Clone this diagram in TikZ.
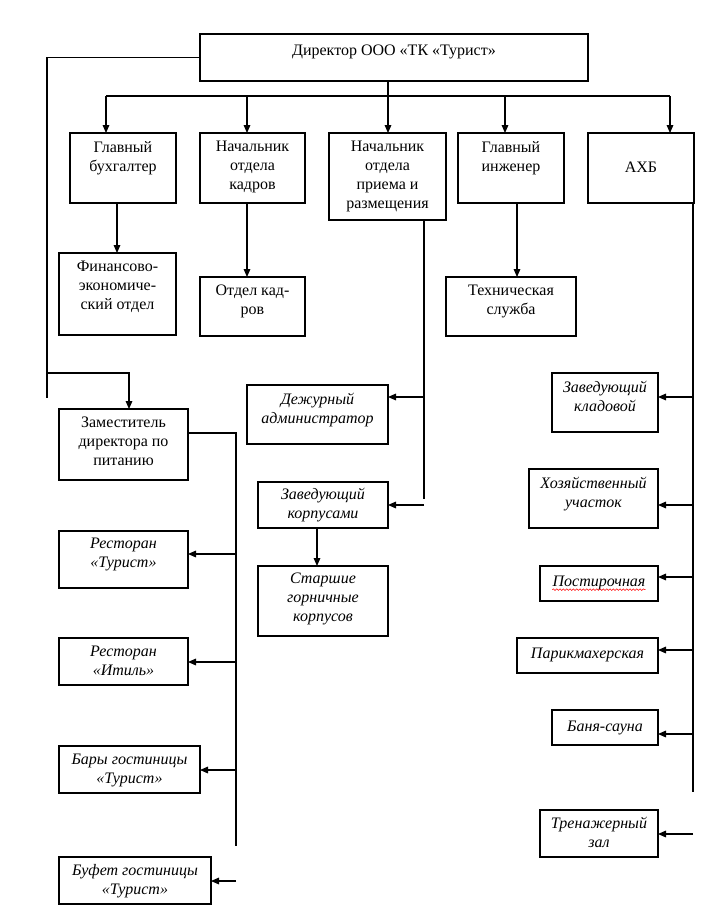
\documentclass[tikz,border=0pt]{standalone}
\usepackage{fontspec}
\setmainfont{Liberation Serif}
\usetikzlibrary{arrows.meta,decorations.pathmorphing}
\tikzset{
 boxst/.style={draw, line width=0.8pt, inner sep=0pt, outer sep=0pt},
 txt/.style={font=\fontsize{12}{14.25}\selectfont, align=center, inner sep=0pt,
   execute at begin node=\strut, execute at end node=\strut},
 itx/.style={txt, font=\fontsize{12}{14.25}\selectfont\itshape},
 ln/.style={line width=0.8pt},
 arr/.style={ln, -{Triangle[length=6pt,width=5pt]}},
}
\newcommand\bx[8]{%
 \node[boxst, minimum width={(#4-#2)*0.75pt}, minimum height={(#5-#3)*0.75pt}, anchor=north west] (#1) at (#2,#3) {};
 \node[#7] (#1-t) at ({(#2+#4)/2},{#6+1.5}) {#8};}
\begin{document}
\begin{tikzpicture}[x=0.75pt,y=-0.75pt]
\useasboundingbox (0,0) rectangle (711,924);
% boxes
\bx{dir}{200}{34}{588}{81}{50}{txt}{Директор ООО «ТК «Турист»}
\bx{b1}{70}{133}{176}{203}{157.5}{txt}{Главный\\бухгалтер}
\bx{b2}{200}{133}{305}{203}{167}{txt}{Начальник\\отдела\\кадров}
\bx{b3}{329}{133}{446}{220}{176.5}{txt}{Начальник\\отдела\\приема и\\размещения}
\bx{b4}{458}{133}{564}{203}{157.5}{txt}{Главный\\инженер}
\bx{b5}{588}{133}{694}{203}{167}{txt}{АХБ}
\bx{fin}{59}{253}{176}{335}{286.5}{txt}{Финансово-\\экономиче-\\ский отдел}
\bx{ok}{200}{277}{305}{336}{301.5}{txt}{Отдел кад-\\ров}
\bx{tech}{446}{277}{576}{336}{301.5}{txt}{Техническая\\служба}
\bx{zam}{59}{409}{188}{480}{442.5}{txt}{Заместитель\\директора по\\питанию}
\bx{dezh}{247}{385}{388}{444}{409.5}{itx}{Дежурный\\администратор}
\bx{korp}{258}{482}{388}{528}{504.5}{itx}{Заведующий\\корпусами}
\bx{star}{258}{566}{388}{636}{599}{itx}{Старшие\\горничные\\корпусов}
\bx{rt}{59}{531}{188}{588}{554.5}{itx}{Ресторан\\«Турист»}
\bx{ri}{59}{638}{188}{685}{662}{itx}{Ресторан\\«Итиль»}
\bx{bar}{59}{746}{200}{793}{770}{itx}{Бары гостиницы\\«Турист»}
\bx{buf}{59}{857}{211}{904}{881}{itx}{Буфет гостиницы\\«Турист»}
\bx{klad}{552}{373}{658}{432}{397.5}{itx}{Заведующий\\кладовой}
\bx{hoz}{529}{469}{658}{528}{494}{itx}{Хозяйственный\\участок}
\bx{post}{540}{566}{658}{601}{581}{itx}{Постирочная}
\bx{parik}{517}{638}{658}{673}{653}{itx}{Парикмахерская}
\bx{banya}{552}{710}{658}{745}{726}{itx}{Баня-сауна}
\bx{tren}{540}{810}{658}{857}{834}{itx}{Тренажерный\\зал}
% spell-check underline
\draw[red, line width=0.4pt, decorate, decoration={snake, amplitude=0.6pt, segment length=2.5pt}]
  ([yshift=-2.5pt]post-t.base west) -- ([yshift=-2.5pt]post-t.base east);
% coordinates
\coordinate (L1) at (47,57.5); \coordinate (L2) at (47,373); \coordinate (L3) at (47,398);
\coordinate (Z) at (129,373);
\coordinate (B0) at (388,96); \coordinate (B1) at (106,96); \coordinate (B2) at (247,96);
\coordinate (B4) at (505,96); \coordinate (B5) at (670,96);
\coordinate (F) at (117,0); \coordinate (K2) at (247,0); \coordinate (T) at (517,0);
\coordinate (V3) at (424,0); \coordinate (V3e) at (424,499);
\coordinate (A1) at (424,397); \coordinate (A2) at (424,505);
\coordinate (K) at (317,0);
\coordinate (Z1) at (236,433); \coordinate (Z2) at (236,846);
\coordinate (C1) at (236,554); \coordinate (C2) at (236,662); \coordinate (C3) at (236,770); \coordinate (C4) at (236,881);
\coordinate (R0) at (693,0); \coordinate (Re) at (693,792);
\coordinate (D1) at (693,397); \coordinate (D2) at (693,505); \coordinate (D3) at (693,577);
\coordinate (D4) at (693,650); \coordinate (D5) at (693,734); \coordinate (D6) at (693,834);
% connectors
\draw[ln] (dir.west) -- (L1) -- (L3);
\draw[arr] (L2) -- (Z) -- (Z |- zam.north);
\draw[arr] (B0 |- dir.south) -- (B0 |- b3.north);
\draw[ln] (B1) -- (B5);
\draw[arr] (B1) -- (B1 |- b1.north);
\draw[arr] (B2) -- (B2 |- b2.north);
\draw[arr] (B4) -- (B4 |- b4.north);
\draw[arr] (B5) -- (B5 |- b5.north);
\draw[arr] (F |- b1.south) -- (F |- fin.north);
\draw[arr] (K2 |- b2.south) -- (K2 |- ok.north);
\draw[arr] (T |- b4.south) -- (T |- tech.north);
\draw[ln] (V3 |- b3.south) -- (V3e);
\draw[arr] (A1) -- (A1 -| dezh.east);
\draw[arr] (A2) -- (A2 -| korp.east);
\draw[arr] (K |- korp.south) -- (K |- star.north);
\draw[ln] (Z1 -| zam.east) -- (Z1) -- (Z2);
\draw[arr] (C1) -- (C1 -| rt.east);
\draw[arr] (C2) -- (C2 -| ri.east);
\draw[arr] (C3) -- (C3 -| bar.east);
\draw[arr] (C4) -- (C4 -| buf.east);
\draw[ln] (R0 |- b5.south) -- (Re);
\draw[arr] (D1) -- (D1 -| klad.east);
\draw[arr] (D2) -- (D2 -| hoz.east);
\draw[arr] (D3) -- (D3 -| post.east);
\draw[arr] (D4) -- (D4 -| parik.east);
\draw[arr] (D5) -- (D5 -| banya.east);
\draw[arr] (D6) -- (D6 -| tren.east);
\end{tikzpicture}
\end{document}
